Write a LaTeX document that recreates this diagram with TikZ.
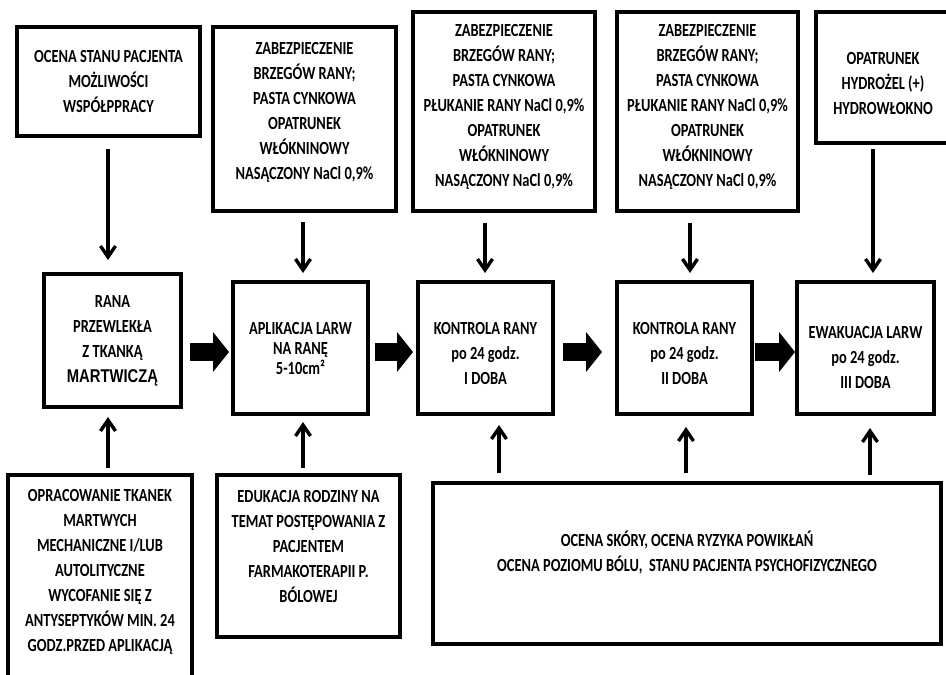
\documentclass[tikz,border=0pt]{standalone}
\usepackage{fontspec}
\setmainfont{Carlito}[FakeStretch=0.78]
\newfontfamily\arialn{Liberation Sans}[FakeStretch=0.8]
\usetikzlibrary{arrows.meta}
\newcommand\fs[2]{\fontsize{#1}{#2}\selectfont\bfseries}
\newcommand\dpt[1]{\rule[-#1]{0pt}{#1}}
\newcommand\htp[1]{\rule{0pt}{#1}}
\begin{document}
\begin{tikzpicture}[x=1pt,y=-1pt,
  box/.style={draw, line width=3.2pt, align=center, inner sep=0pt, outer sep=0pt, font=\fs{18.5}{25}},
  arr/.style={line width=3.4pt, -{Straight Barb[length=11pt,width=15pt]}},
  fat/.style={line width=18pt, -{Triangle[length=16pt,width=40pt,line width=0pt]}}]
\useasboundingbox (0,0) rectangle (946,675);
% top row
\node[box, minimum width=183pt, minimum height=109pt] (T1) at (108.5,81.5)
  {OCENA STANU PACJENTA\\ MOŻLIWOŚCI\\ WSPÓŁPPRACY};
\node[box, minimum width=183pt, minimum height=184pt] (T2) at (304.5,119)
  {ZABEZPIECZENIE\\ BRZEGÓW RANY;\\ PASTA CYNKOWA\\ OPATRUNEK\\ WŁÓKNINOWY\\ NASĄCZONY NaCl 0,9\%\dpt{16pt}};
\node[box, minimum width=182pt, minimum height=199pt] (T3) at (504,111.5)
  {ZABEZPIECZENIE\\ BRZEGÓW RANY;\\ PASTA CYNKOWA\\ PŁUKANIE RANY NaCl 0,9\%\\ OPATRUNEK\\ WŁÓKNINOWY\\ NASĄCZONY NaCl 0,9\%\dpt{12pt}};
\node[box, minimum width=181pt, minimum height=199pt] (T4) at (707.5,111.5)
  {ZABEZPIECZENIE\\ BRZEGÓW RANY;\\ PASTA CYNKOWA\\ PŁUKANIE RANY NaCl 0,9\%\\ OPATRUNEK\\ WŁÓKNINOWY\\ NASĄCZONY NaCl 0,9\%\dpt{12pt}};
\node[box, minimum width=134pt, minimum height=131pt] (T5) at (883,77.5)
  {\htp{24pt}OPATRUNEK\\ HYDROŻEL (+)\\ HYDROWŁOKNO};
% middle row
\node[box, minimum width=137pt, minimum height=133pt] (M1) at (112.5,340.5)
  {RANA\\ PRZEWLEKŁA\\ Z TKANKĄ\\ {\arialn MARTWICZĄ}};
\node[box, minimum width=135pt, minimum height=132pt, font=\fs{18.5}{20}] (M2) at (300.5,348)
  {APLIKACJA LARW\\ NA RANĘ\\ 5-10cm²};
\node[box, minimum width=135pt, minimum height=132pt] (M3) at (485.5,348)
  {\htp{24pt}KONTROLA RANY\\ po 24 godz.\\ I DOBA};
\node[box, minimum width=135pt, minimum height=132pt] (M4) at (684.5,348)
  {\htp{24pt}KONTROLA RANY\\ po 24 godz.\\ II DOBA};
\node[box, minimum width=137pt, minimum height=132pt] (M5) at (865.5,348)
  {\htp{32pt}EWAKUACJA LARW\\ po 24 godz.\\ III DOBA};
% bottom row
\node[box, minimum width=184pt, minimum height=240pt] (B1) at (100,595)
  {OPRACOWANIE TKANEK\\ MARTWYCH\\ MECHANICZNE I/LUB\\ AUTOLITYCZNE\\ WYCOFANIE SIĘ Z\\ ANTYSEPTYKÓW MIN. 24\\ GODZ.PRZED APLIKACJĄ\dpt{50pt}};
\node[box, minimum width=183pt, minimum height=162pt] (B2) at (308.5,556)
  {EDUKACJA RODZINY NA\\ TEMAT POSTĘPOWANIA Z\\ PACJENTEM\\ FARMAKOTERAPII P.\\ BÓLOWEJ\dpt{20pt}};
\node[box, minimum width=508pt, minimum height=161pt] (B3) at (687,563.5)
  {OCENA SKÓRY, OCENA RYZYKA POWIKŁAŃ\\ OCENA POZIOMU BÓLU,\ \ STANU PACJENTA PSYCHOFIZYCZNEGO\dpt{25pt}};
% helper coordinates
\coordinate (ax1) at (108,0);
\coordinate (ax2) at (303,0);
\coordinate (ax3) at (485,0);
\coordinate (ax4) at (690,0);
\coordinate (ax5) at (873,0);
\coordinate (bx1) at (108,0);
\coordinate (bx2) at (303,0);
\coordinate (bx3) at (499,0);
\coordinate (bx4) at (686,0);
\coordinate (bx5) at (870,0);
\coordinate (mid) at (0,352);
% top arrows
\draw[arr, shorten <=13pt, shorten >=14pt] (T1.south -| ax1) -- (M1.north -| ax1);
\draw[arr, shorten <=11pt, shorten >=9pt] (T2.south -| ax2) -- (M2.north -| ax2);
\draw[arr, shorten <=12pt, shorten >=9pt] (T3.south -| ax3) -- (M3.north -| ax3);
\draw[arr, shorten <=12pt, shorten >=9pt] (T4.south -| ax4) -- (M4.north -| ax4);
\draw[arr, shorten <=6pt, shorten >=9pt] (T5.south -| ax5) -- (M5.north -| ax5);
% bottom arrows
\draw[arr, shorten <=7pt, shorten >=10pt] (B1.north -| bx1) -- (M1.south -| bx1);
\draw[arr, shorten <=7pt, shorten >=8pt] (B2.north -| bx2) -- (M2.south -| bx2);
\draw[arr, shorten <=10pt, shorten >=11pt] (B3.north -| bx3) -- (M3.south -| bx3);
\draw[arr, shorten <=10pt, shorten >=13pt] (B3.north -| bx4) -- (M4.south -| bx4);
\draw[arr, shorten <=8pt, shorten >=14pt] (B3.north -| bx5) -- (M5.south -| bx5);
% thick arrows
\draw[fat, shorten <=9pt, shorten >=4pt] (M1.east |- mid) -- (M2.west |- mid);
\draw[fat, shorten <=7pt, shorten >=5pt] (M2.east |- mid) -- (M3.west |- mid);
\draw[fat, shorten <=10pt, shorten >=15pt] (M3.east |- mid) -- (M4.west |- mid);
\draw[fat, shorten <=3pt, shorten >=2pt] (M4.east |- mid) -- (M5.west |- mid);
\end{tikzpicture}
\end{document}
